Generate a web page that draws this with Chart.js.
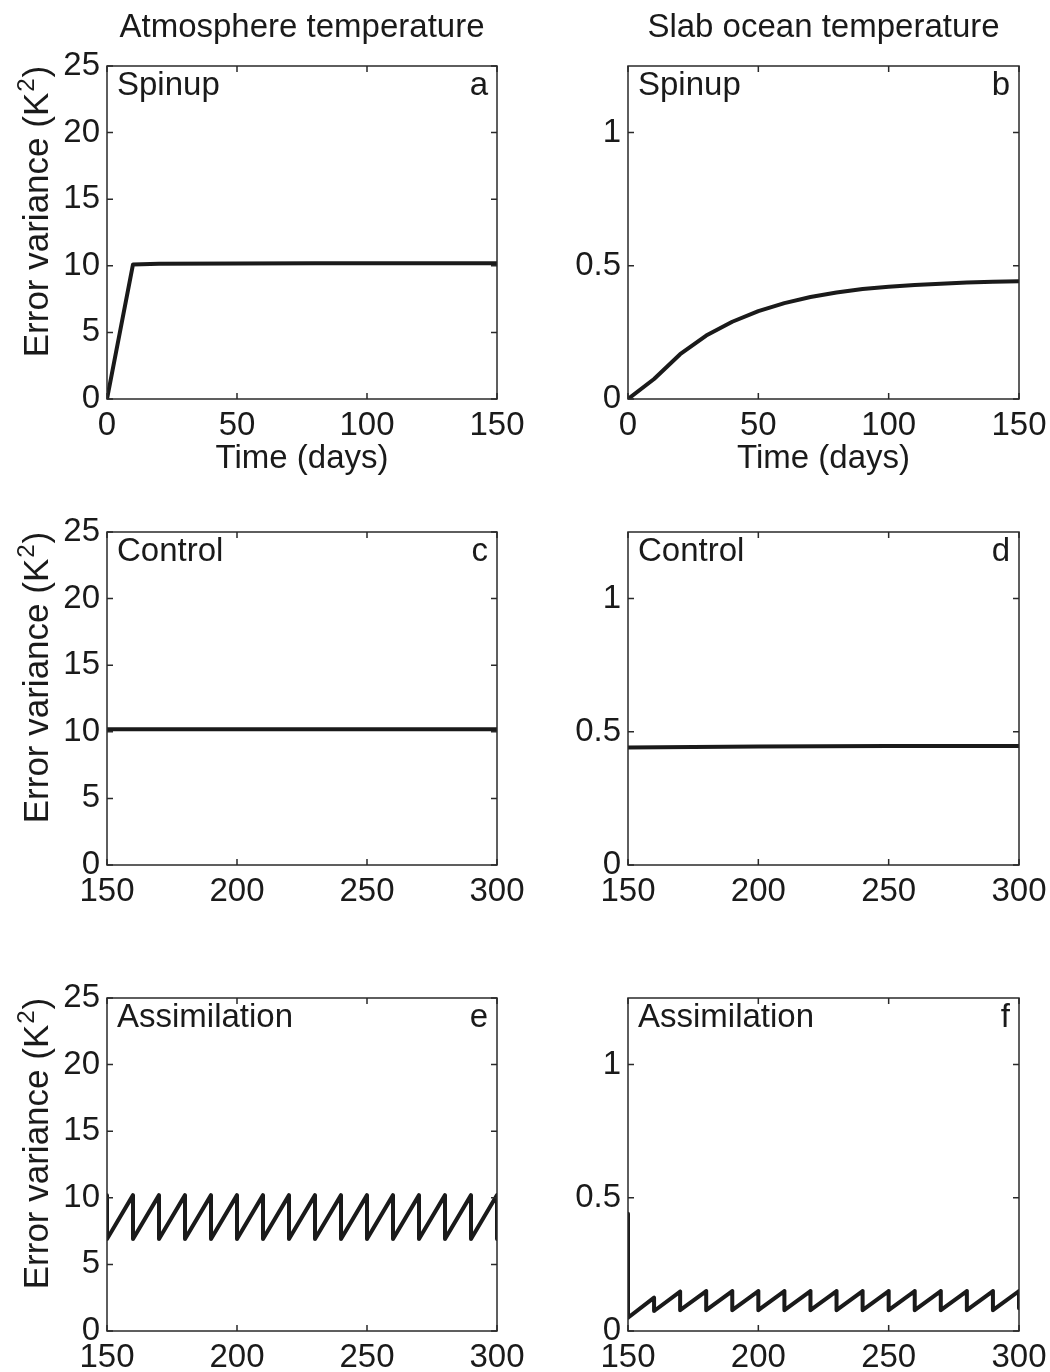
<!DOCTYPE html>
<html>
<head>
<meta charset="utf-8">
<title>Error variance</title>
<script src="https://cdn.jsdelivr.net/npm/chart.js@4.4.0/dist/chart.umd.min.js"></script>
<style>
  html, body { margin: 0; padding: 0; background: #fff; }
  body { width: 1050px; height: 1372px; position: relative; overflow: hidden; }
  canvas { position: absolute; }
</style>
</head>
<body>
<canvas id="panelA" width="525" height="480" style="left:0;top:0"></canvas>
<canvas id="panelB" width="525" height="480" style="left:525px;top:0"></canvas>
<canvas id="panelC" width="525" height="480" style="left:0;top:466px"></canvas>
<canvas id="panelD" width="525" height="480" style="left:525px;top:466px"></canvas>
<canvas id="panelE" width="525" height="480" style="left:0;top:932px"></canvas>
<canvas id="panelF" width="525" height="480" style="left:525px;top:932px"></canvas>
<script>
// tick labels
const spinupTicks = [0, 50, 100, 150];
const runTicks = [150, 200, 250, 300];
const atmTicks = [0, 5, 10, 15, 20, 25];
const ocnTicks = [0, 0.5, 1];

// spinup (days 0-150)
const atmSpinupDays = [0, 10, 20, 50, 80, 100, 150];
const atmSpinupVar = [0, 10.1, 10.15, 10.18, 10.2, 10.2, 10.2];
const ocnSpinupDays = [0, 10, 20, 30, 40, 50, 60, 70, 80, 90, 100, 110, 120, 130, 140, 150];
const ocnSpinupVar = [0, 0.075, 0.168, 0.238, 0.29, 0.33, 0.36, 0.383, 0.4, 0.413, 0.421, 0.428, 0.433, 0.437, 0.44, 0.442];

// control run (days 150-300)
const atmControlDays = [150, 200, 250, 300];
const atmControlVar = [10.2, 10.2, 10.2, 10.2];
const ocnControlDays = [150, 200, 250, 300];
const ocnControlVar = [0.441, 0.445, 0.447, 0.447];

// assimilation run (days 150-300), analysis every 10 days
const assimDays = [150, 150, 160, 160, 170, 170, 180, 180, 190, 190, 200, 200, 210, 210, 220, 220,
                   230, 230, 240, 240, 250, 250, 260, 260, 270, 270, 280, 280, 290, 290, 300, 300];
const atmAssimVar = [10.2, 6.9, 10.2, 6.9, 10.2, 6.9, 10.2, 6.9, 10.2, 6.9, 10.2, 6.9, 10.2, 6.9, 10.2, 6.9,
                     10.2, 6.9, 10.2, 6.9, 10.2, 6.9, 10.2, 6.9, 10.2, 6.9, 10.2, 6.9, 10.2, 6.9, 10.2, 6.9];
const ocnAssimVar = [0.44, 0.05, 0.125, 0.075, 0.148, 0.078, 0.15, 0.078, 0.15, 0.078, 0.15, 0.078, 0.15, 0.078, 0.15, 0.078,
                     0.15, 0.078, 0.15, 0.078, 0.15, 0.078, 0.15, 0.078, 0.15, 0.078, 0.15, 0.078, 0.15, 0.078, 0.15, 0.085];

const FONT = "'Liberation Sans', Arial, Helvetica, sans-serif";
const INK = '#1a1a1a';
Chart.defaults.font.family = FONT;
Chart.defaults.font.size = 33;
Chart.defaults.color = INK;

// box, inward ticks and all the annotation text
const panelDecor = {
    id: 'panelDecor',
    afterDraw(chart, args, o) {
        const ctx = chart.ctx, a = chart.chartArea;
        const xs = chart.scales.x, ys = chart.scales.y;
        ctx.save();
        ctx.strokeStyle = '#2a2a2a';
        ctx.lineWidth = 1.5;
        ctx.strokeRect(a.left, a.top, a.right - a.left, a.bottom - a.top);
        ctx.beginPath();
        xs.ticks.forEach(function (t) {
            var px = xs.getPixelForValue(t.value);
            ctx.moveTo(px, a.bottom); ctx.lineTo(px, a.bottom - 6);
            ctx.moveTo(px, a.top); ctx.lineTo(px, a.top + 6);
        });
        ys.ticks.forEach(function (t) {
            var py = ys.getPixelForValue(t.value);
            ctx.moveTo(a.left, py); ctx.lineTo(a.left + 6, py);
            ctx.moveTo(a.right, py); ctx.lineTo(a.right - 6, py);
        });
        ctx.stroke();

        ctx.fillStyle = INK;
        ctx.font = '33px ' + FONT;
        ctx.textBaseline = 'alphabetic';
        ctx.textAlign = 'left';
        ctx.fillText(o.name, a.left + 10, a.top + 29);
        ctx.textAlign = 'right';
        ctx.fillText(o.letter, a.right - 9, a.top + 29);

        var midX = (a.left + a.right) / 2;
        ctx.textAlign = 'center';
        ctx.textBaseline = 'middle';
        if (o.colTitle) ctx.fillText(o.colTitle, midX, 28);
        if (o.xTitle) ctx.fillText(o.xTitle, midX, a.bottom + 60);

        if (o.yTitle) {
            ctx.translate(36, (a.top + a.bottom) / 2 - 20);
            ctx.rotate(-Math.PI / 2);
            var big = '35px ' + FONT, small = '24px ' + FONT;
            ctx.font = big;
            var w1 = ctx.measureText(o.yTitle).width;
            var w3 = ctx.measureText(')').width;
            ctx.font = small;
            var w2 = ctx.measureText('2').width;
            var x0 = -(w1 + w2 + w3) / 2;
            ctx.textAlign = 'left';
            ctx.textBaseline = 'alphabetic';
            ctx.font = big;
            ctx.fillText(o.yTitle, x0, 12);
            ctx.font = small;
            ctx.fillText('2', x0 + w1 + 1, -2);
            ctx.font = big;
            ctx.fillText(')', x0 + w1 + w2 + 2, 12);
        }
        ctx.restore();
    }
};

function makePanel(id, days, values, xTicks, yTicks, xMin, xMax, yMax, leftCol, deco) {
    const chartData = {
        datasets: [{
            data: days.map(function (d, i) { return {x: d, y: values[i]}; }),
            borderColor: INK,
            borderWidth: 4,
            borderJoinStyle: 'round',
            borderCapStyle: 'butt',
            pointRadius: 0,
            tension: 0,
            fill: false
        }]
    };
    return new Chart(document.getElementById(id), {
        type: 'line',
        data: chartData,
        plugins: [panelDecor],
        options: {
            responsive: false,
            animation: false,
            events: [],
            layout: {padding: {top: 66, right: leftCol ? 28 : 31, left: 0, bottom: 14}},
            plugins: {legend: {display: false}, tooltip: {enabled: false}, panelDecor: deco},
            scales: {
                x: {
                    type: 'linear', min: xMin, max: xMax,
                    grid: {display: false, drawTicks: false},
                    border: {display: false},
                    ticks: {padding: 7, maxRotation: 0, callback: function (v) { return String(v); }},
                    afterBuildTicks: function (s) { s.ticks = xTicks.map(function (v) { return {value: v}; }); },
                    afterFit: function (s) { s.height = 67; s.paddingLeft = 0; s.paddingRight = 0; }
                },
                y: {
                    type: 'linear', min: 0, max: yMax,
                    grid: {display: false, drawTicks: false},
                    border: {display: false},
                    ticks: {padding: 7, callback: function (v) { return String(v); }},
                    afterBuildTicks: function (s) { s.ticks = yTicks.map(function (v) { return {value: v}; }); },
                    afterFit: function (s) { s.width = leftCol ? 107 : 103; s.paddingTop = 0; s.paddingBottom = 0; }
                }
            }
        }
    });
}

const yLabel = 'Error variance (K';
makePanel('panelA', atmSpinupDays, atmSpinupVar, spinupTicks, atmTicks, 0, 150, 25, true,
    {name: 'Spinup', letter: 'a', colTitle: 'Atmosphere temperature', xTitle: 'Time (days)', yTitle: yLabel});
makePanel('panelB', ocnSpinupDays, ocnSpinupVar, spinupTicks, ocnTicks, 0, 150, 1.25, false,
    {name: 'Spinup', letter: 'b', colTitle: 'Slab ocean temperature', xTitle: 'Time (days)'});
makePanel('panelC', atmControlDays, atmControlVar, runTicks, atmTicks, 150, 300, 25, true,
    {name: 'Control', letter: 'c', yTitle: yLabel});
makePanel('panelD', ocnControlDays, ocnControlVar, runTicks, ocnTicks, 150, 300, 1.25, false,
    {name: 'Control', letter: 'd'});
makePanel('panelE', assimDays, atmAssimVar, runTicks, atmTicks, 150, 300, 25, true,
    {name: 'Assimilation', letter: 'e', yTitle: yLabel});
makePanel('panelF', assimDays, ocnAssimVar, runTicks, ocnTicks, 150, 300, 1.25, false,
    {name: 'Assimilation', letter: 'f'});
</script>
</body>
</html>
